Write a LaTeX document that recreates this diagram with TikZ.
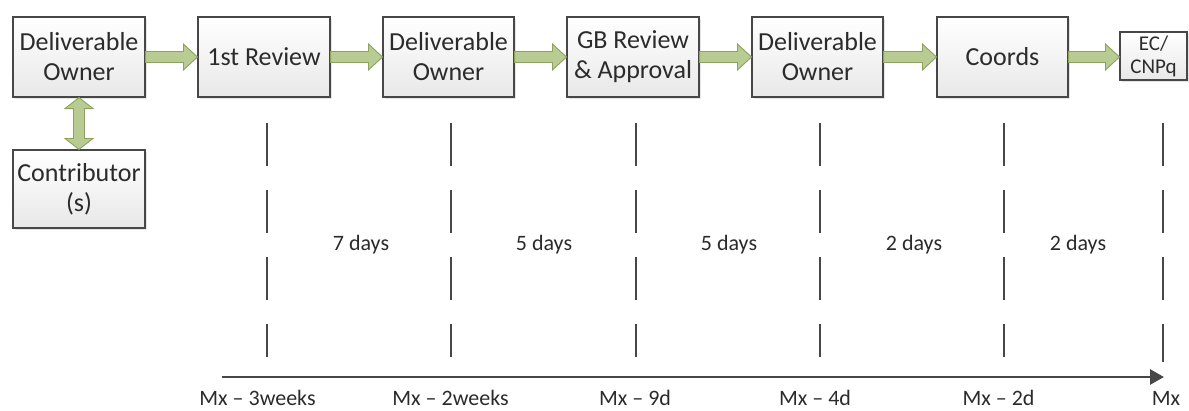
\documentclass[tikz,border=0pt]{standalone}
\usepackage{fontspec}
\setmainfont{Carlito}
\usetikzlibrary{calc,arrows.meta,shadows}
\definecolor{txt}{HTML}{2B2B2B}
\definecolor{edge}{HTML}{474747}
\definecolor{gfill}{HTML}{B8CB92}
\definecolor{gedge}{HTML}{8CA35C}
\begin{document}
\begin{tikzpicture}[x=1pt,y=-1pt,
  box/.style={draw=edge,line width=1.1pt,top color=white,bottom color=black!9,
    text=txt,align=center,inner sep=0pt,font=\fontsize{26}{30}\selectfont,
    drop shadow={shadow xshift=2pt,shadow yshift=-2pt,opacity=0.25,fill=black!40}},
  fat/.style={fill=gfill,draw=gedge,line width=0.9pt,line join=miter},
  tick/.style={draw=edge,line width=2.6pt,dash pattern=on 43pt off 24pt},
  lbl/.style={text=txt,font=\fontsize{22}{26}\selectfont,inner sep=0pt}]
\useasboundingbox (0,0) rectangle (1189,410);
% boxes
\node[box,minimum width=132,minimum height=80] (do1) at (79,57) {Deliverable\\Owner};
\node[box,minimum width=132,minimum height=80] (r1) at (264,57) {1st Review};
\node[box,minimum width=131,minimum height=80] (do2) at (448.5,57) {Deliverable\\Owner};
\node[box,minimum width=132,minimum height=80] (gb) at (633,57) {GB Review\\\&~Approval};
\node[box,minimum width=131,minimum height=80] (do3) at (817.5,57) {Deliverable\\Owner};
\node[box,minimum width=131,minimum height=80] (co) at (1002.5,57) {Coords};
\node[box,minimum width=67,minimum height=48,font=\fontsize{21}{23}\selectfont] (ec) at (1153.5,56) {EC/\\CNPq};
\node[box,minimum width=132,minimum height=78] (ctr) at (79,189) {Contributor\\(s)};
% horizontal fat arrows
\newcommand\hfat[2]{%
  \draw[fat] ($(#1.east)+(0,-5.5)$) -- ($(#2.west |- #1.east)+(-14,-5.5)$)
    -- ($(#2.west |- #1.east)+(-14,-13)$) -- (#2.west |- #1.east)
    -- ($(#2.west |- #1.east)+(-14,13)$) -- ($(#2.west |- #1.east)+(-14,5.5)$)
    -- ($(#1.east)+(0,5.5)$) -- cycle;}
\hfat{do1}{r1}
\hfat{r1}{do2}
\hfat{do2}{gb}
\hfat{gb}{do3}
\hfat{do3}{co}
\hfat{co}{ec}
% vertical double arrow
\draw[fat] (do1.south) -- ($(do1.south)+(14,11)$) -- ($(do1.south)+(5.5,11)$)
  -- ($(ctr.north)+(5.5,-11)$) -- ($(ctr.north)+(14,-11)$) -- (ctr.north)
  -- ($(ctr.north)+(-14,-11)$) -- ($(ctr.north)+(-5.5,-11)$)
  -- ($(do1.south)+(-5.5,11)$) -- ($(do1.south)+(-14,11)$) -- cycle;
% dashed separators
\foreach \n/\x/\e in {a/267/357,b/451/357,c/636/357,d/820/357,e/1004/357,f/1163/362}{
  \coordinate (t\n) at (\x,123);
  \coordinate (b\n) at (\x,\e);
  \draw[tick] (t\n) -- (b\n);
}
% durations
\node[lbl] (d1) at (361,245) {7 days};
\node[lbl] (d2) at (544,245) {5 days};
\node[lbl] (d3) at (729,245) {5 days};
\node[lbl] (d4) at (914,245) {2 days};
\node[lbl] (d5) at (1078,245) {2 days};
% timeline
\coordinate (tl0) at (222,377);
\coordinate (tl1) at (1164,377);
\draw[draw=edge,line width=2.8pt,-{Triangle[length=14pt,width=15pt]}] (tl0) -- (tl1);
\node[lbl] (m1) at (257.5,398) {Mx – 3weeks};
\node[lbl] (m2) at (450.5,398) {Mx – 2weeks};
\node[lbl] (m3) at (635,398) {Mx – 9d};
\node[lbl] (m4) at (815,398) {Mx – 4d};
\node[lbl] (m5) at (998.5,398) {Mx – 2d};
\node[lbl] (m6) at (1166,398) {Mx};
\end{tikzpicture}
\end{document}
